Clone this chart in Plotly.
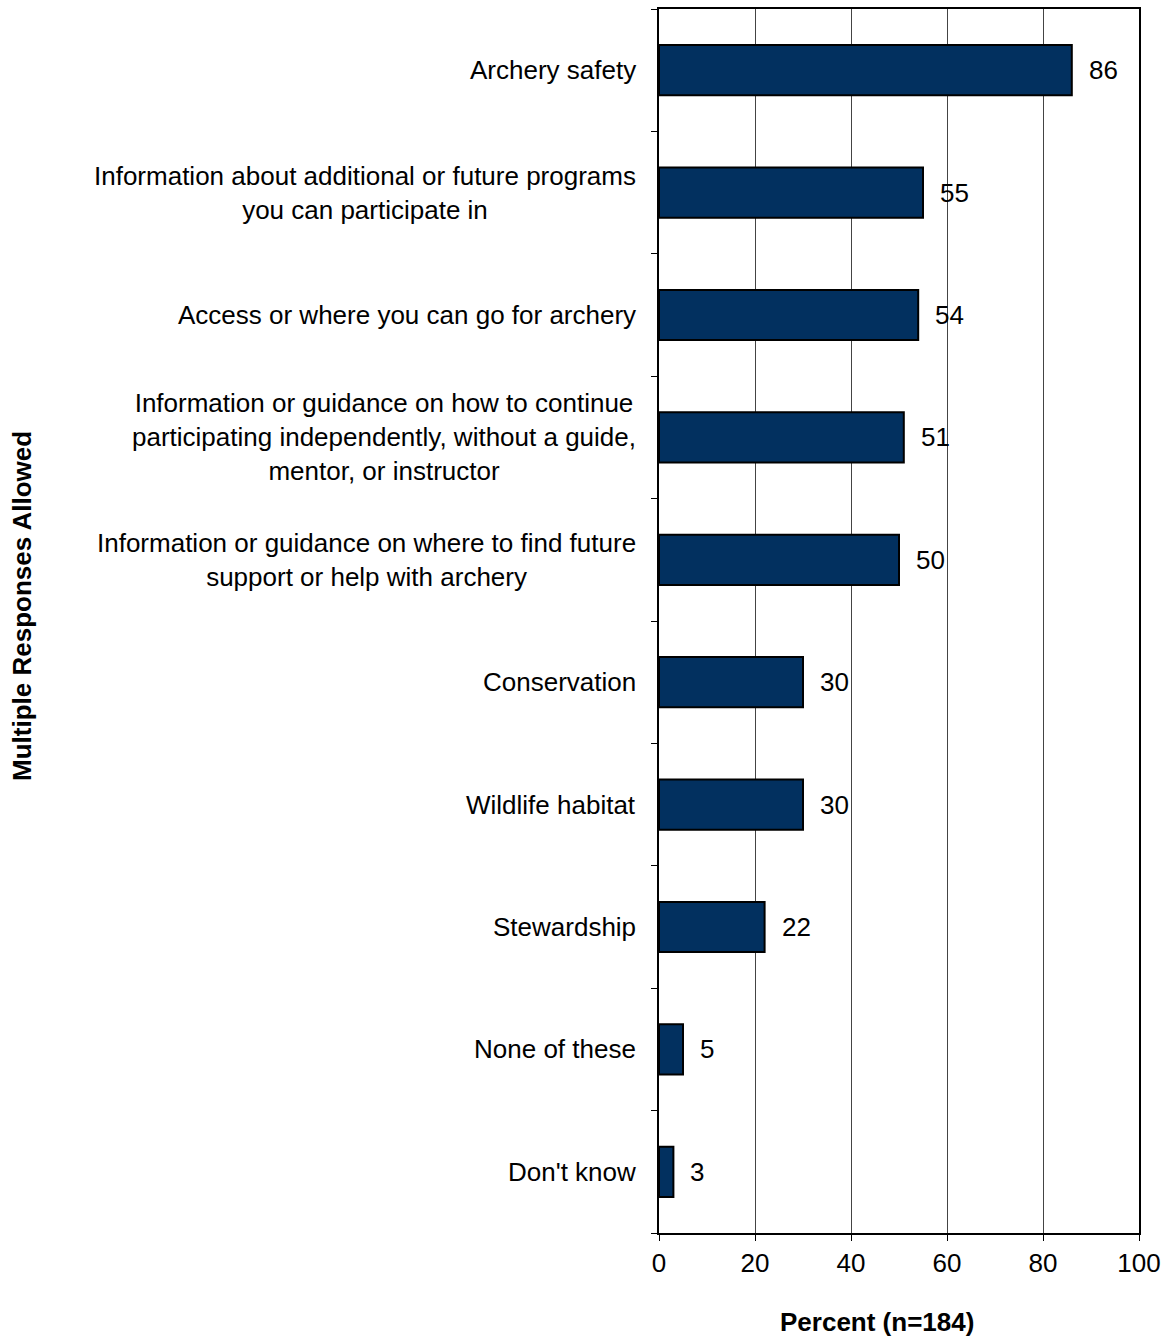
import plotly.graph_objects as go

categories = [
    "Archery safety",
    "Information about additional or future programs<br>you can participate in",
    "Access or where you can go for archery",
    "Information or guidance on how to continue<br>participating independently, without a guide,<br>mentor, or instructor",
    "Information or guidance on where to find future<br>support or help with archery",
    "Conservation",
    "Wildlife habitat",
    "Stewardship",
    "None of these",
    "Don't know",
]
percent = [86, 55, 54, 51, 50, 30, 30, 22, 5, 3]
x_ticks = [0, 20, 40, 60, 80, 100]

FONT = "Liberation Sans, Arial, sans-serif"
FS = 26

ids = [f"c{i}" for i in range(len(categories))]

fig = go.Figure()
fig.add_trace(go.Bar(
    y=ids,
    x=percent,
    orientation="h",
    width=0.41,
    marker=dict(color="#02305F", line=dict(color="#000000", width=2)),
    hoverinfo="skip",
))

annotations = []
# value labels just beyond each bar end
for cid, v in zip(ids, percent):
    annotations.append(dict(
        x=v, y=cid, xref="x", yref="y", text=str(v), showarrow=False,
        xanchor="left", yanchor="middle", xshift=15,
        font=dict(family=FONT, size=FS, color="#000000"),
    ))
# category labels, centred text blocks right-aligned against the axis
for cid, label in zip(ids, categories):
    annotations.append(dict(
        x=0, y=cid, xref="paper", yref="y", text=label, showarrow=False,
        xanchor="right", yanchor="middle", align="center", xshift=-21,
        font=dict(family=FONT, size=FS, color="#000000"),
    ))
# axis titles (pixel positions, converted below)
annotations.append(dict(
    x=877, y=1322, xref="paper", yref="paper", text="<b>Percent (n=184)</b>",
    showarrow=False, xanchor="center", yanchor="middle",
    font=dict(family=FONT, size=FS, color="#000000"),
))
annotations.append(dict(
    x=22, y=606, xref="paper", yref="paper", text="<b>Multiple Responses Allowed</b>",
    showarrow=False, xanchor="center", yanchor="middle", textangle=-90,
    font=dict(family=FONT, size=FS, color="#000000"),
))

W, H = 1165, 1338
L, R, T, B = 659, 26, 9, 105
for a in annotations[-2:]:
    a["x"] = (a["x"] - L) / (W - L - R)
    a["y"] = 1 - (a["y"] - T) / (H - T - B)

fig.update_layout(
    width=W, height=H,
    margin=dict(l=L, r=R, t=T, b=B, pad=0, autoexpand=False),
    paper_bgcolor="white", plot_bgcolor="white",
    showlegend=False,
    annotations=annotations,
    font=dict(family=FONT, size=FS, color="#000000"),
    xaxis=dict(
        range=[0, 100], tickvals=x_ticks, ticktext=[str(t) for t in x_ticks],
        showgrid=True, gridcolor="#444444", gridwidth=1,
        showline=True, linecolor="#000000", linewidth=2, mirror=True,
        ticks="outside", ticklen=6, tickcolor="#000000",
        tickfont=dict(family=FONT, size=FS, color="#000000"),
        zeroline=False, fixedrange=True, automargin=False,
    ),
    yaxis=dict(
        categoryorder="array", categoryarray=ids[::-1],
        tickson="boundaries", ticks="outside", ticklen=6, tickcolor="#000000",
        showticklabels=False, showgrid=False,
        showline=True, linecolor="#000000", linewidth=2, mirror=True,
        zeroline=False, fixedrange=True, automargin=False,
    ),
)

fig.write_html("out.html")
